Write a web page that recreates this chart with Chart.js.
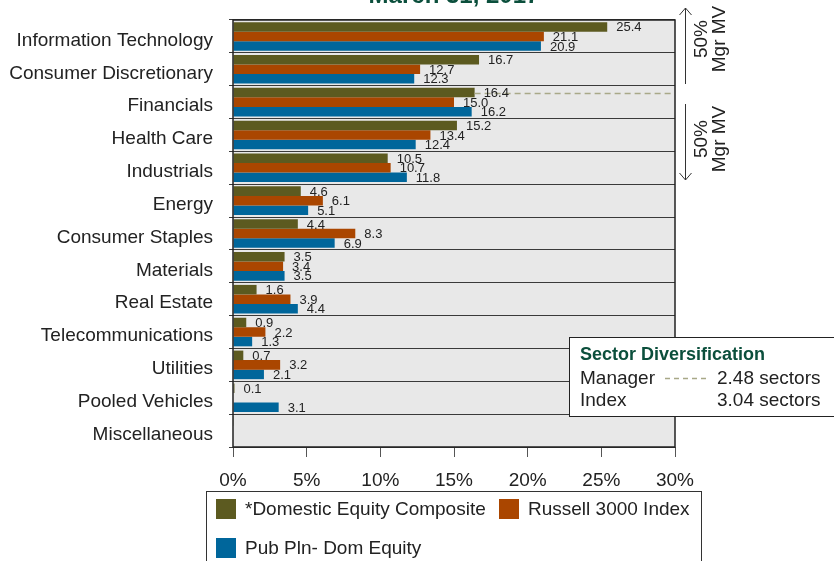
<!DOCTYPE html>
<html>
<head>
<meta charset="utf-8">
<script src="https://cdn.jsdelivr.net/npm/chart.js@4"></script>
<style>
  body { margin: 0; background: #fff; }
  #wrap { width: 834px; height: 561px; }
</style>
</head>
<body>
<div id="wrap"><canvas id="myChart"></canvas></div>
<script>
const categories = ['Information Technology', 'Consumer Discretionary', 'Financials', 'Health Care',
  'Industrials', 'Energy', 'Consumer Staples', 'Materials', 'Real Estate', 'Telecommunications',
  'Utilities', 'Pooled Vehicles', 'Miscellaneous'];
const manager = [25.4, 16.7, 16.4, 15.2, 10.5, 4.6, 4.4, 3.5, 1.6, 0.9, 0.7, 0.1, 0.02];
const russell = [21.1, 12.7, 15.0, 13.4, 10.7, 6.1, 8.3, 3.4, 3.9, 2.2, 3.2, null, null];
const pubPlan = [20.9, 12.3, 16.2, 12.4, 11.8, 5.1, 6.9, 3.5, 4.4, 1.3, 2.1, 3.1, null];
const xTicks = [0, 5, 10, 15, 20, 25, 30];
const seriesNames = ['*Domestic Equity Composite', 'Russell 3000 Index', 'Pub Pln- Dom Equity'];
const colors = ['#5c5a20', '#aa4600', '#00669b'];
const titleText = 'March 31, 2017';
const diversification = [['Manager', '2.48 sectors'], ['Index', '3.04 sectors']];
const midCategory = 'Financials';

const FONT = "'Liberation Sans', Arial, sans-serif";
const DARK_GREEN = '#0b4f3c';

const extras = {
  id: 'extras',
  beforeDraw(chart) {
    const { ctx, chartArea: a } = chart;
    ctx.save();
    ctx.fillStyle = '#e8e8e8';
    ctx.fillRect(a.left, a.top, a.right - a.left, a.bottom - a.top);
    ctx.restore();
  },
  afterDraw(chart) {
    const { ctx, chartArea: a } = chart;
    ctx.save();

    // plot border
    ctx.strokeStyle = '#222';
    ctx.lineWidth = 1.5;
    ctx.strokeRect(a.left, a.top, a.right - a.left, a.bottom - a.top);

    // dashed line at the manager's 50% point
    const mi = categories.indexOf(midCategory);
    const mbar = chart.getDatasetMeta(0).data[mi];
    ctx.strokeStyle = '#a8a888';
    ctx.lineWidth = 1.3;
    ctx.setLineDash([6, 4]);
    ctx.beginPath();
    ctx.moveTo(mbar.x, Math.round(mbar.y) + 0.5);
    ctx.lineTo(a.right - 2, Math.round(mbar.y) + 0.5);
    ctx.stroke();
    ctx.setLineDash([]);

    // value labels
    ctx.fillStyle = '#222';
    ctx.font = '13px ' + FONT;
    ctx.textBaseline = 'middle';
    ctx.textAlign = 'left';
    chart.data.datasets.forEach((ds, di) => {
      chart.getDatasetMeta(di).data.forEach((bar, i) => {
        const v = ds.data[i];
        if (v == null || v < 0.05) return;
        ctx.fillText(v.toFixed(1), bar.x + 9, bar.y + 1);
      });
    });

    // title (cut at the top)
    ctx.fillStyle = DARK_GREEN;
    ctx.font = 'bold 24px ' + FONT;
    ctx.textAlign = 'center';
    ctx.textBaseline = 'alphabetic';
    ctx.fillText(titleText, (a.left + a.right) / 2, 3);

    // 50% arrows
    ctx.strokeStyle = '#333';
    ctx.lineWidth = 1;
    const ax = 685.5;
    const arrows = [[84, 8, 39], [104, 180, 139]];
    arrows.forEach(([y0, y1, cy]) => {
      const d = y1 > y0 ? -1 : 1;
      ctx.beginPath();
      ctx.moveTo(ax, y0);
      ctx.lineTo(ax, y1);
      ctx.moveTo(ax - 6, y1 + d * 7);
      ctx.lineTo(ax, y1);
      ctx.lineTo(ax + 6, y1 + d * 7);
      ctx.stroke();
      ctx.save();
      ctx.translate(0, cy);
      ctx.rotate(-Math.PI / 2);
      ctx.fillStyle = '#222';
      ctx.font = '19px ' + FONT;
      ctx.textAlign = 'center';
      ctx.textBaseline = 'middle';
      ctx.fillText('50%', 0, 702);
      ctx.fillText('Mgr MV', 0, 720);
      ctx.restore();
    });

    // sector diversification box
    ctx.fillStyle = '#fff';
    ctx.fillRect(569.5, 337.5, 300, 79);
    ctx.strokeStyle = '#222';
    ctx.strokeRect(569.5, 337.5, 300, 79);
    ctx.textAlign = 'left';
    ctx.textBaseline = 'middle';
    ctx.fillStyle = DARK_GREEN;
    ctx.font = 'bold 18px ' + FONT;
    ctx.fillText('Sector Diversification', 580, 355);
    ctx.fillStyle = '#222';
    ctx.font = '19px ' + FONT;
    diversification.forEach(([name, val], i) => {
      const y = 379 + i * 22;
      ctx.fillText(name, 580, y);
      ctx.fillText(val, 717, y);
    });
    ctx.strokeStyle = '#a8a888';
    ctx.lineWidth = 1.3;
    ctx.setLineDash([5, 4]);
    ctx.beginPath();
    ctx.moveTo(665, 378.5);
    ctx.lineTo(708, 378.5);
    ctx.stroke();
    ctx.setLineDash([]);

    // legend
    ctx.strokeStyle = '#333';
    ctx.lineWidth = 1;
    ctx.strokeRect(206.5, 491.5, 495, 80);
    const spots = [[216, 499], [499, 499], [216, 538]];
    chart.data.datasets.forEach((ds, i) => {
      const [x, y] = spots[i];
      ctx.fillStyle = ds.backgroundColor;
      ctx.fillRect(x, y, 20, 20);
      ctx.fillStyle = '#222';
      ctx.font = '19px ' + FONT;
      ctx.fillText(ds.label, x + 29, y + 11);
    });

    ctx.restore();
  }
};

new Chart(document.getElementById('myChart'), {
  type: 'bar',
  data: {
    labels: categories,
    datasets: [manager, russell, pubPlan].map((d, i) => ({
      label: seriesNames[i],
      data: d,
      backgroundColor: colors[i],
      categoryPercentage: 0.87,
      barPercentage: 1.0
    }))
  },
  options: {
    indexAxis: 'y',
    responsive: true,
    maintainAspectRatio: false,
    animation: false,
    layout: { padding: { top: 20, right: 159, left: 0, bottom: 0 } },
    plugins: { legend: { display: false }, tooltip: { enabled: false } },
    scales: {
      x: {
        min: 0,
        max: 30,
        afterBuildTicks(scale) { scale.ticks = xTicks.map(v => ({ value: v })); },
        afterFit(scale) {
          scale.height = 114;
          scale.paddingLeft = 0;
          scale.paddingRight = 0;
        },
        border: { display: false },
        grid: { drawOnChartArea: false, drawTicks: true, tickLength: 10, color: '#555' },
        ticks: {
          padding: 12,
          color: '#222',
          font: { family: FONT, size: 19 },
          callback: v => v + '%'
        }
      },
      y: {
        afterFit(scale) {
          scale.width = 233;
          scale.paddingTop = 0;
          scale.paddingBottom = 0;
        },
        border: { display: false },
        grid: { color: '#3a3a3a', lineWidth: 1, tickLength: 4 },
        ticks: {
          padding: 16,
          labelOffset: 4,
          color: '#222',
          font: { family: FONT, size: 19 }
        }
      }
    }
  },
  plugins: [extras]
});
</script>
</body>
</html>
